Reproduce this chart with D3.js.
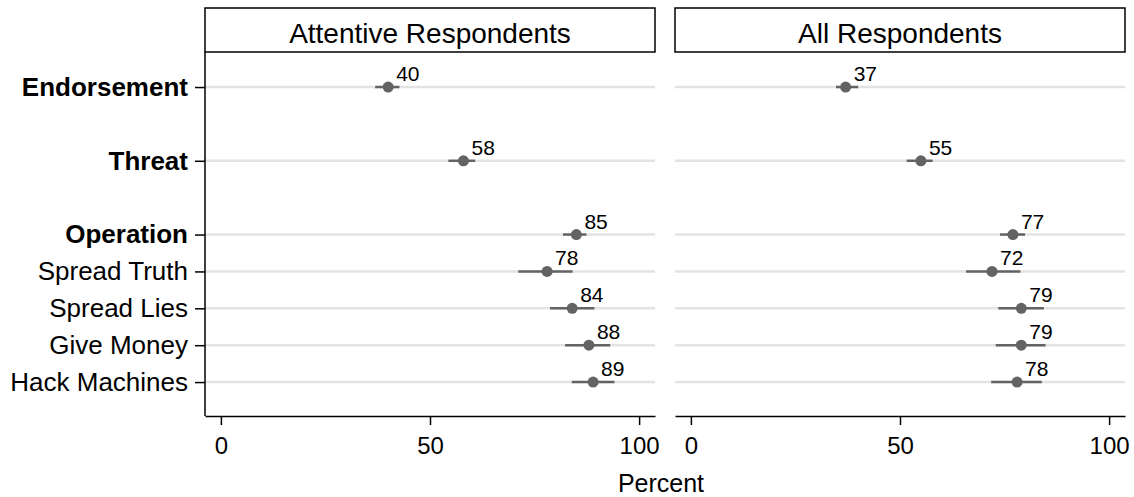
<!DOCTYPE html>
<html>
<head>
<meta charset="utf-8">
<script src="https://cdn.jsdelivr.net/npm/d3@7"></script>
<style>
  html, body { margin: 0; padding: 0; background: #fff; }
  svg text { font-family: "Liberation Sans", Arial, Helvetica, sans-serif; fill: #000; }
</style>
</head>
<body>
<svg id="chart" width="1134" height="497"></svg>
<script>
// Survey items, top to bottom; the bold ones are headline measures
const categories = ["Endorsement", "Threat", "Operation", "Spread Truth", "Spread Lies", "Give Money", "Hack Machines"];
const headline = ["Endorsement", "Threat", "Operation"];

const panels = ["Attentive Respondents", "All Respondents"];

// Point estimates (percent) and 95% interval bounds
const attentiveEst = [40, 58, 85, 78, 84, 88, 89];
const attentiveLo  = [36.9, 54.4, 81.8, 71.1, 78.7, 82.3, 83.9];
const attentiveHi  = [42.7, 60.8, 87.4, 84.1, 89.3, 93.1, 94.1];

const allEst = [37, 55, 77, 72, 79, 79, 78];
const allLo  = [34.7, 51.6, 73.9, 65.8, 73.5, 72.9, 71.8];
const allHi  = [40.0, 57.8, 79.9, 78.8, 84.4, 84.8, 83.9];

const xTicks = [0, 50, 100];

const seriesByPanel = [
  { est: attentiveEst, lo: attentiveLo, hi: attentiveHi },
  { est: allEst, lo: allLo, hi: allHi }
];

// Row slots: headline measures are separated by an empty row
const slots = [];
categories.forEach((c, i) => {
  if (i === 0) slots.push(0);
  else slots.push(slots[i - 1] + (headline.includes(c) ? 2 : 1));
});

const svg = d3.select("#chart");
const markColor = "#636363";
const gridColor = "#e3e3e3";

const plotTop = 52, plotBottom = 416;
const panelX = [205, 675];
const panelW = 450;
const stripTop = 8;

const x = d3.scaleLinear().domain([-3.8, 103.8]).range([0, panelW]);
const y = d3.scaleLinear().domain([-0.95, 8.92]).range([plotTop, plotBottom]);

panels.forEach((title, p) => {
  const g = svg.append("g").attr("transform", `translate(${panelX[p]},0)`);
  const s = seriesByPanel[p];

  // strip header
  g.append("rect")
    .attr("x", 0).attr("y", stripTop)
    .attr("width", panelW).attr("height", plotTop - stripTop)
    .attr("fill", "#fff").attr("stroke", "#000").attr("stroke-width", 1.5);
  g.append("text")
    .attr("x", panelW / 2).attr("y", 43)
    .attr("text-anchor", "middle")
    .style("font-size", "28px")
    .text(title);

  // horizontal guide lines at each row
  g.selectAll("line.grid").data(categories).join("line")
    .attr("class", "grid")
    .attr("x1", 0).attr("x2", panelW)
    .attr("y1", (d, i) => y(slots[i])).attr("y2", (d, i) => y(slots[i]))
    .attr("stroke", gridColor).attr("stroke-width", 2.5);

  // bottom axis
  const xAxis = d3.axisBottom(x).tickValues(xTicks).tickSize(9).tickPadding(12).tickSizeOuter(0);
  const ax = g.append("g").attr("transform", `translate(0,${plotBottom})`).call(xAxis);
  ax.select(".domain").attr("stroke", "#000").attr("stroke-width", 1.5);
  ax.selectAll(".tick line").attr("stroke", "#000").attr("stroke-width", 1.5);
  ax.selectAll(".tick text").style("font-size", "24px").attr("fill", "#000");

  // left axis only on the first panel
  if (p === 0) {
    const yAxis = d3.axisLeft(y).tickValues(slots).tickSize(10).tickPadding(7).tickSizeOuter(0)
      .tickFormat((d) => categories[slots.indexOf(d)]);
    const ay = g.append("g").call(yAxis);
    ay.select(".domain").attr("stroke", "#000").attr("stroke-width", 1.5)
      .attr("d", `M0,${plotTop}V${plotBottom}`);
    ay.selectAll(".tick line").attr("stroke", "#000").attr("stroke-width", 1.5);
    ay.selectAll(".tick text")
      .style("font-size", "26px")
      .style("font-weight", (d) => headline.includes(categories[slots.indexOf(d)]) ? "bold" : "normal")
      .attr("fill", "#000");
  }

  // interval bars
  g.selectAll("line.ci").data(categories).join("line")
    .attr("class", "ci")
    .attr("x1", (d, i) => x(s.lo[i])).attr("x2", (d, i) => x(s.hi[i]))
    .attr("y1", (d, i) => y(slots[i])).attr("y2", (d, i) => y(slots[i]))
    .attr("stroke", markColor).attr("stroke-width", 2.5);

  // point estimates
  g.selectAll("circle.pt").data(categories).join("circle")
    .attr("class", "pt")
    .attr("cx", (d, i) => x(s.est[i])).attr("cy", (d, i) => y(slots[i]))
    .attr("r", 5.5).attr("fill", markColor);

  // value labels
  g.selectAll("text.val").data(categories).join("text")
    .attr("class", "val")
    .attr("x", (d, i) => x(s.est[i]) + 8).attr("y", (d, i) => y(slots[i]) - 6)
    .style("font-size", "21px")
    .text((d, i) => d3.format("d")(s.est[i]));
});

// shared axis title
svg.append("text")
  .attr("x", (panelX[0] + panelX[1] + panelW) / 2 - 4).attr("y", 492)
  .attr("text-anchor", "middle")
  .style("font-size", "25px")
  .text("Percent");
</script>
</body>
</html>
